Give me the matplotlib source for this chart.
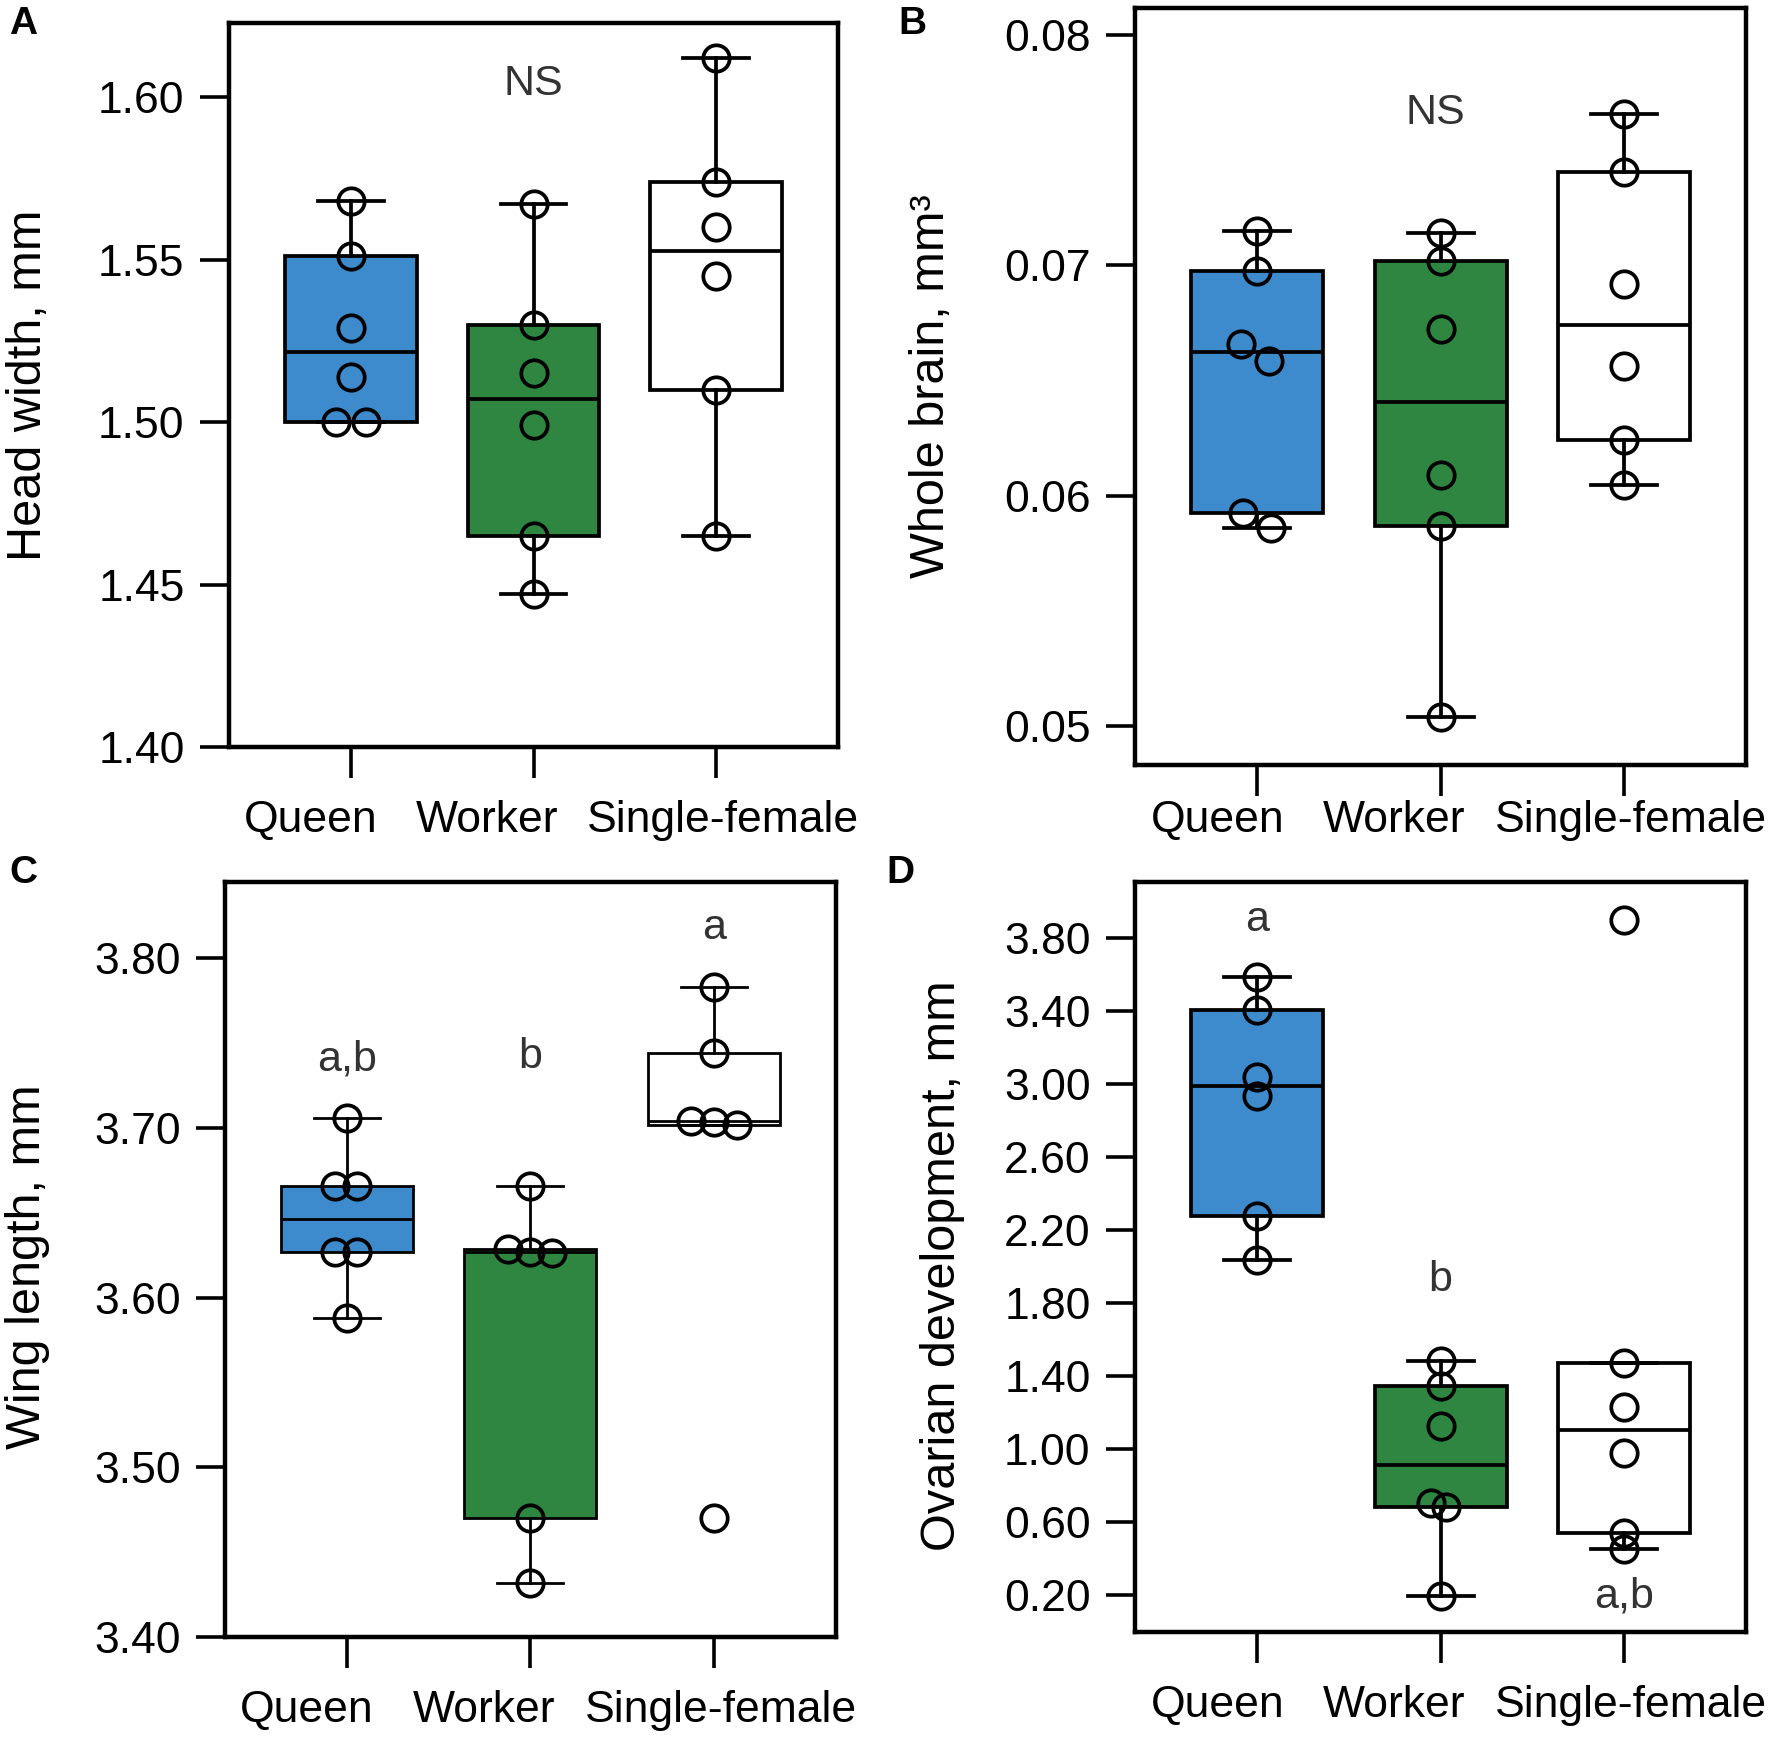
import matplotlib
matplotlib.use("Agg")
import matplotlib.pyplot as plt
import matplotlib.transforms as mtransforms
import numpy as np

plt.rcParams['font.family'] = ['Liberation Sans', 'DejaVu Sans']

groups = ["Queen", "Worker", "Single-female"]
box_colors = ["#3d8bcd", "#2e8641", "white"]

# A: head width, mm
head_queen = [1.568, 1.551, 1.529, 1.514, 1.500, 1.500]
head_worker = [1.567, 1.530, 1.515, 1.499, 1.465, 1.447]
head_single = [1.612, 1.574, 1.560, 1.545, 1.510, 1.465]

# B: whole brain, mm3
brain_queen = [0.07148, 0.06976, 0.06658, 0.06586, 0.05923, 0.05861]
brain_worker = [0.07141, 0.07017, 0.06722, 0.06091, 0.05868, 0.05038]
brain_single = [0.07656, 0.07407, 0.06921, 0.06562, 0.06244, 0.06048]

# C: wing length, mm
wing_queen = [3.706, 3.666, 3.666, 3.627, 3.627, 3.588]
wing_worker = [3.666, 3.6288, 3.627, 3.6264, 3.4703, 3.4317]
wing_single = [3.7833, 3.744, 3.7043, 3.7035, 3.702, 3.4703]

# D: ovarian development, mm
ovary_queen = [3.585, 3.402, 3.037, 2.934, 2.276, 2.033]
ovary_worker = [1.479, 1.342, 1.122, 0.702, 0.681, 0.194]
ovary_single = [3.899, 1.469, 1.226, 0.976, 0.535, 0.450]

# horizontal spread of overlapping points (category units)
head_jitter = [[0, 0, 0, 0, -0.083, 0.085], [0] * 6, [0] * 6]
brain_jitter = [[0, 0, -0.087, 0.062, -0.08, 0.074], [0] * 6, [0] * 6]
wing_jitter = [[0, -0.065, 0.055, -0.065, 0.055, 0], [0, -0.12, 0, 0.12, 0, 0], [0, 0, -0.125, 0, 0.125, 0]]
ovary_jitter = [[0] * 6, [0, 0, 0, -0.053, 0.03, 0], [0] * 6]

# significance letters
head_letters = [(2, 1.604, "NS")]
brain_letters = [(1.97, 0.0766, "NS")]
wing_letters = [(1, 3.7405, "a,b"), (2, 3.742, "b"), (3, 3.818, "a")]
ovary_letters = [(1, 3.899, "a"), (2, 1.925, "b"), (3, 0.188, "a,b")]


def tukey_stats(vals, label):
    # same as R's boxplot(): hinges from fivenum, whiskers 1.5 * IQR
    x = np.sort(np.asarray(vals, float))
    n = len(x)
    n4 = np.floor((n + 3) / 2) / 2
    d = np.array([1, n4, (n + 1) / 2, n + 1 - n4, n]) - 1
    f = 0.5 * (x[np.floor(d).astype(int)] + x[np.ceil(d).astype(int)])
    iqr = f[3] - f[1]
    lo = x[x >= f[1] - 1.5 * iqr].min()
    hi = x[x <= f[3] + 1.5 * iqr].max()
    return dict(med=f[2], q1=f[1], q3=f[3], whislo=lo, whishi=hi, fliers=[], label=label)


fig = plt.figure(figsize=(17.71, 17.38), dpi=100)


def draw_panel(rect, data, jitter, ylim, yticks, ylabel, ylab_pos, letters, lw, xpad, letter, letter_xy):
    ax = fig.add_axes(rect)
    stats = [tukey_stats(v, g) for v, g in zip(data, groups)]
    bp = ax.bxp(stats, positions=[1, 2, 3], widths=0.72, capwidths=0.36,
                patch_artist=True, showfliers=False,
                boxprops=dict(linewidth=lw, edgecolor='black'),
                medianprops=dict(color='black', linewidth=lw),
                whiskerprops=dict(color='black', linewidth=lw),
                capprops=dict(color='black', linewidth=lw))
    for patch, c in zip(bp['boxes'], box_colors):
        patch.set_facecolor(c)
    for i, (v, off) in enumerate(zip(data, jitter)):
        ax.plot(i + 1 + np.array(off), v, 'o', mfc='none', mec='black',
                mew=2.7, ms=19, zorder=5, clip_on=False)
    for x, y, t in letters:
        ax.text(x, y, t, ha='center', va='center', fontsize=31, color='#333333')

    ax.set_xlim(1 / 3, 3 + 2 / 3)
    ax.set_ylim(*ylim)
    ax.set_yticks(yticks)
    ax.set_yticklabels(["%.2f" % t for t in yticks])
    ax.set_xticks([1, 2, 3])
    ax.set_xticklabels(groups)
    for s in ax.spines.values():
        s.set_linewidth(3.2)
    ax.tick_params(axis='y', length=21, width=2.6, labelsize=32, pad=11)
    ax.tick_params(axis='x', length=22, width=2.6, labelsize=32, pad=xpad)
    for lab, dx in zip(ax.get_xticklabels(), [-40, -46, 7]):
        lab.set_transform(lab.get_transform() +
                          mtransforms.ScaledTranslation(dx / 100, 0, fig.dpi_scale_trans))
    ax.text(ylab_pos[0], ylab_pos[1], ylabel, transform=ax.transAxes, rotation=90,
            ha='center', va='center', fontsize=35)
    fig.text(letter_xy[0] / 1771, 1 - letter_xy[1] / 1738, letter, fontsize=28,
             fontweight='bold', ha='center', va='center')
    return ax


draw_panel([0.1293, 0.5702, 0.3439, 0.4166],
           [head_queen, head_worker, head_single], head_jitter,
           (1.40, 1.6228), [1.40, 1.45, 1.50, 1.55, 1.60],
           "Head width, mm", (-0.33, 0.5), head_letters, 2.7, 16, "A", (23, 24))

draw_panel([0.6409, 0.5598, 0.3450, 0.4356],
           [brain_queen, brain_worker, brain_single], brain_jitter,
           (0.04831, 0.08117), [0.05, 0.06, 0.07, 0.08],
           "Whole brain, mm\u00b3", (-0.333, 0.5), brain_letters, 2.7, 3, "B", (912, 24))

draw_panel([0.1270, 0.0581, 0.3450, 0.4344],
           [wing_queen, wing_worker, wing_single], wing_jitter,
           (3.40, 3.845), [3.40, 3.50, 3.60, 3.70, 3.80],
           "Wing length, mm", (-0.323, 0.49), wing_letters, 2.0, 16, "C", (23, 873))

draw_panel([0.6409, 0.0610, 0.3450, 0.4315],
           [ovary_queen, ovary_worker, ovary_single], ovary_jitter,
           (-0.005, 4.105), [0.20, 0.60, 1.00, 1.40, 1.80, 2.20, 2.60, 3.00, 3.40, 3.80],
           "Ovarian development, mm", (-0.315, 0.488), ovary_letters, 2.7, 16, "D", (900, 873))

fig.savefig("out.png", dpi=100)
